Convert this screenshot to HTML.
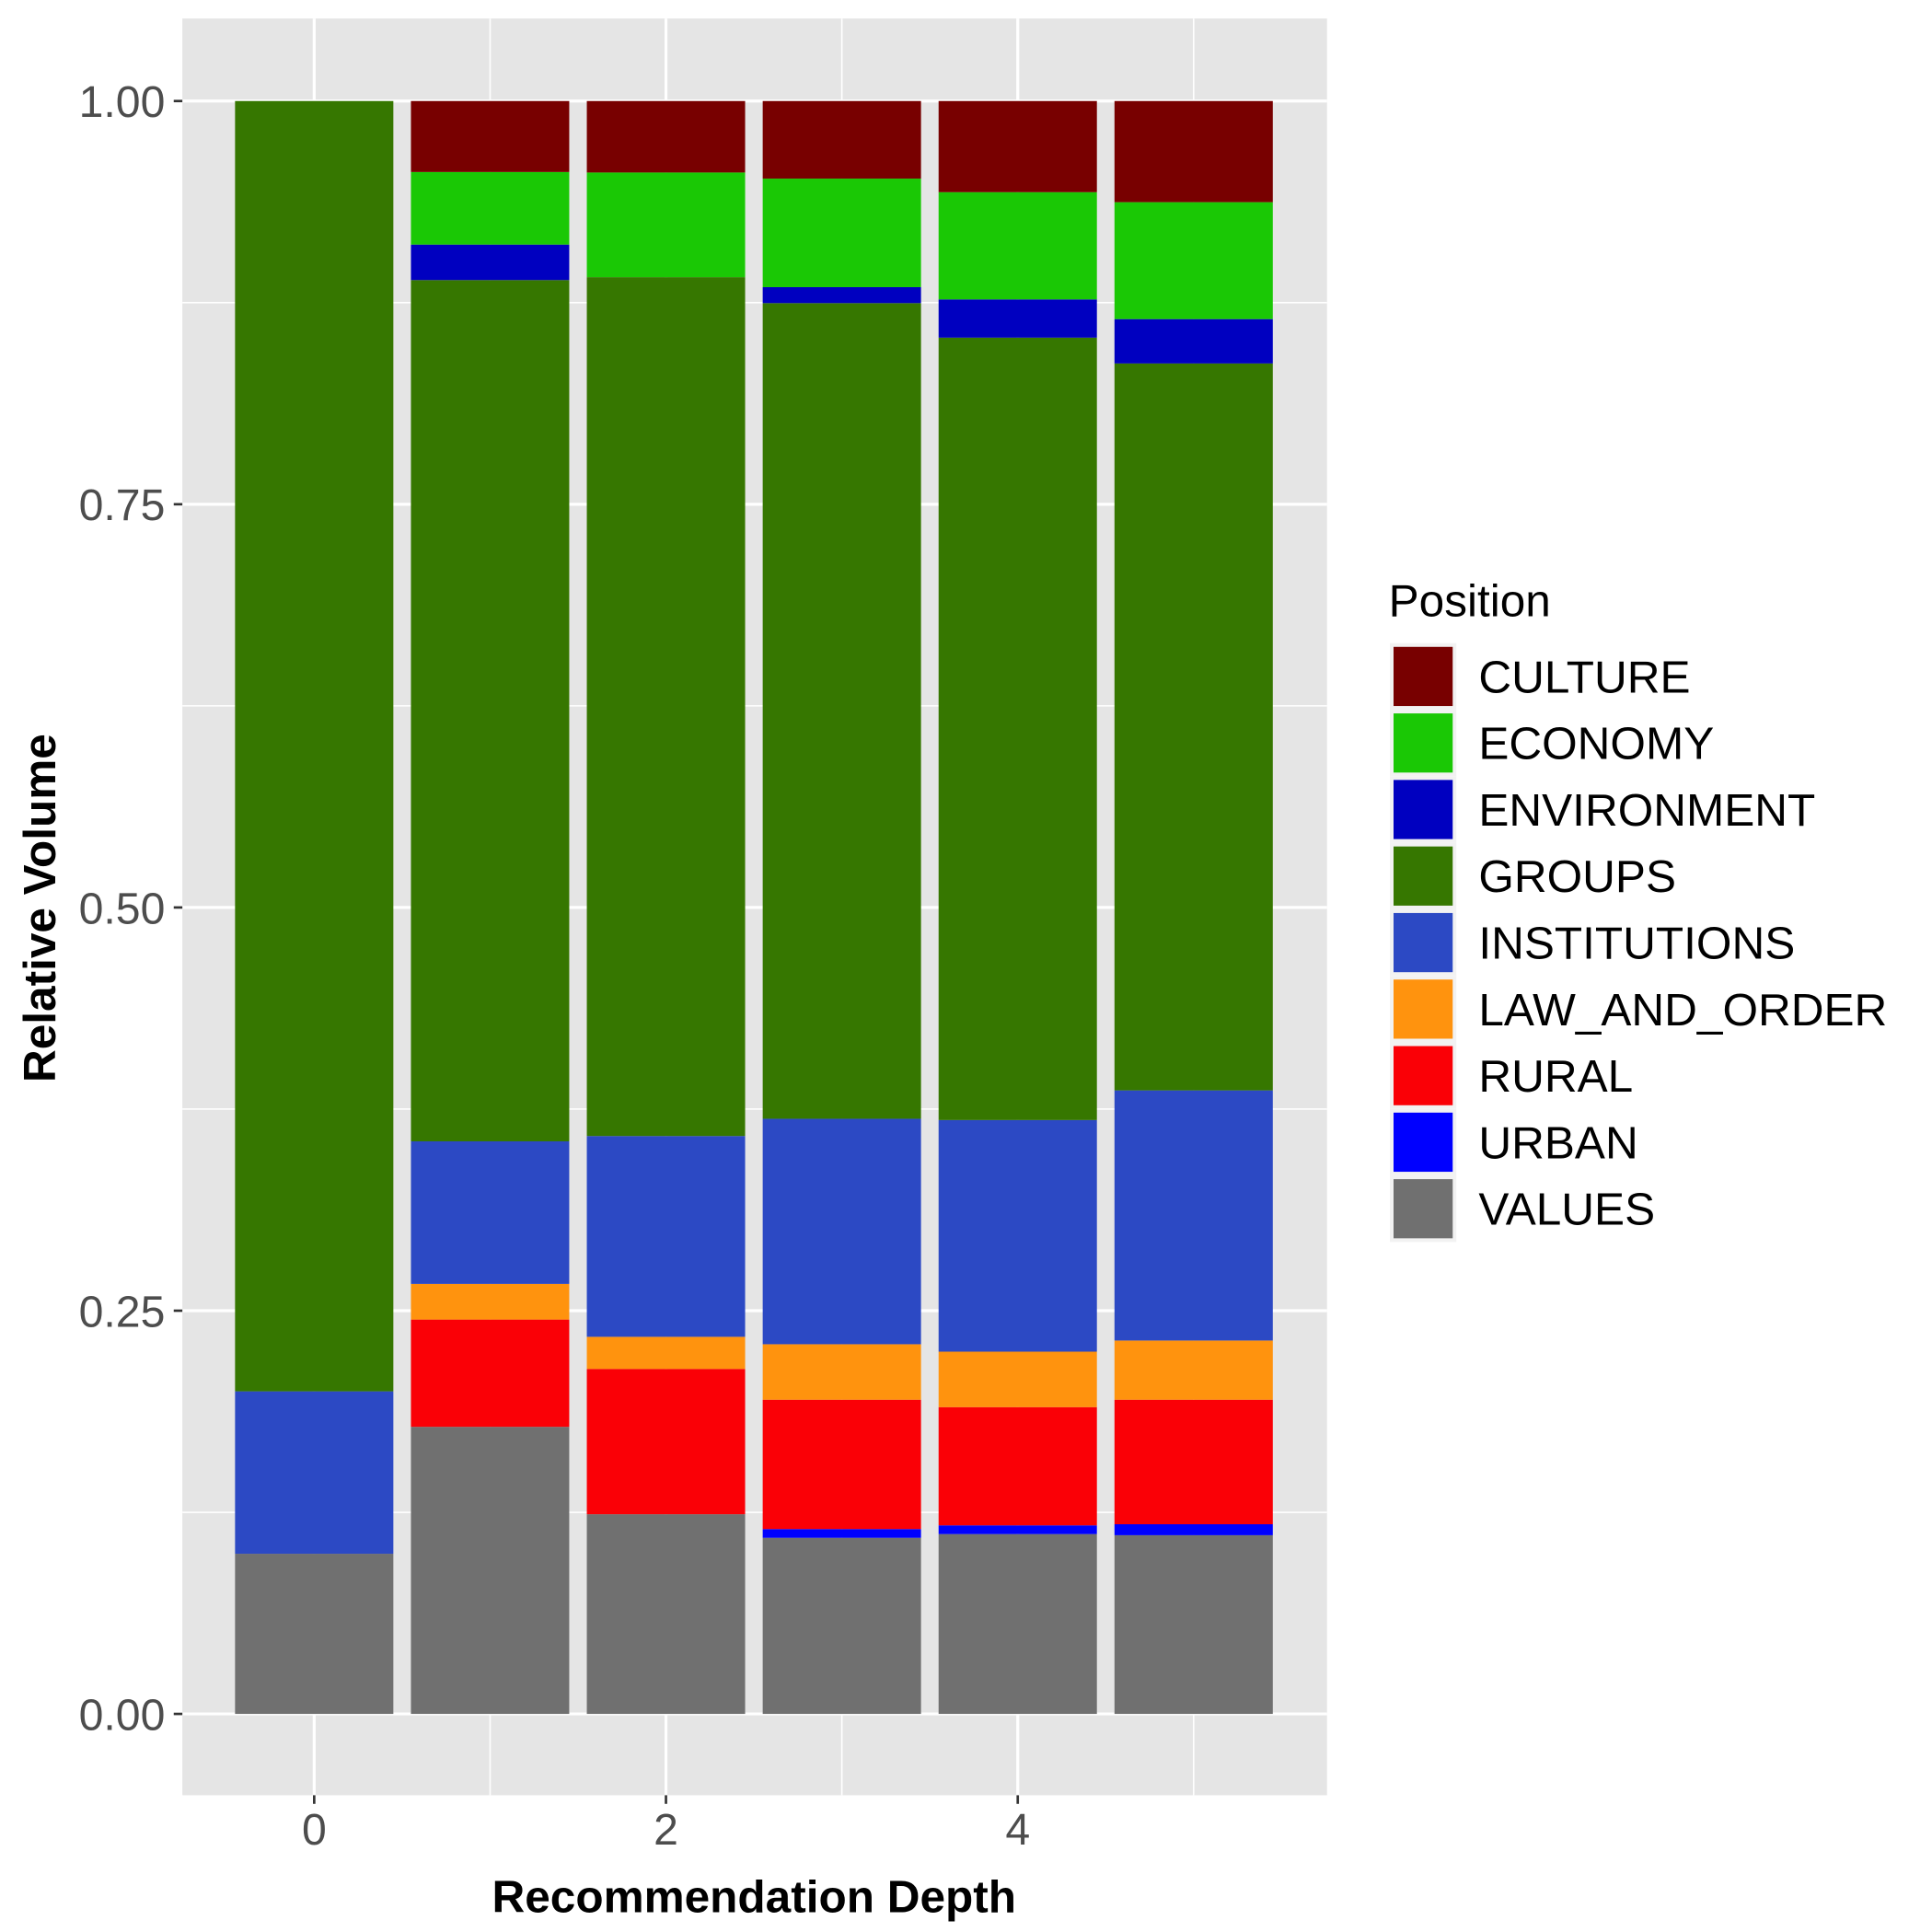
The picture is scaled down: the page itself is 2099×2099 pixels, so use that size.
<!DOCTYPE html>
<html><head><meta charset="utf-8"><style>html,body{margin:0;padding:0;background:#fff}svg{display:block}text{font-family:"Liberation Sans",Arial,sans-serif}</style></head>
<body>
<svg id="chart" width="2099" height="2099" viewBox="0 0 1568 1568" xmlns="http://www.w3.org/2000/svg">
<rect x="0" y="0" width="1568" height="1568" fill="#fff"/>
<rect x="148" y="15" width="929" height="1442" fill="#e5e5e5"/>
<g id="grid"></g>
<g id="bars"></g>
<g id="axes"></g>
<g id="legend"></g>
<text transform="translate(45,737) rotate(-90)" text-anchor="middle" font-size="37" font-weight="bold">Relative Volume</text>
<text x="612" y="1552" text-anchor="middle" font-size="37" font-weight="bold">Recommendation Depth</text>
</svg>
<script>
const depths = [0,1,2,3,4,5];
const categories = ["CULTURE","ECONOMY","ENVIRONMENT","GROUPS","INSTITUTIONS","LAW_AND_ORDER","RURAL","URBAN","VALUES"];
const colors = ["#780000","#1ac805","#0000c0","#367700","#2c49c4","#ff930e","#fa0006","#0000ff","#707070"];
const culture = [0,0.044,0.0443,0.0481,0.0565,0.0627];
const economy = [0,0.045,0.0649,0.0673,0.0665,0.0725];
const environment = [0,0.022,0,0.0099,0.0237,0.0275];
const groups = [0.8,0.534,0.5325,0.5057,0.4851,0.4507];
const institutions = [0.1007,0.0884,0.1245,0.1398,0.1436,0.1551];
const lawAndOrder = [0,0.0221,0.0199,0.0344,0.0344,0.0367];
const rural = [0,0.0665,0.0901,0.0802,0.0733,0.0772];
const urban = [0,0,0,0.0054,0.0054,0.0068];
const values = [0.0993,0.178,0.1238,0.1092,0.1115,0.1108];
const yTicks = [0,0.25,0.5,0.75,1];
const yTickLabels = ["0.00","0.25","0.50","0.75","1.00"];
const xTicks = [0,2,4];
const xTickLabels = ["0","2","4"];

const NS = "http://www.w3.org/2000/svg";
const series = [culture,economy,environment,groups,institutions,lawAndOrder,rural,urban,values];
const yScale = v => 1391 - v*1309;
const xScale = d => 255 + d*142.75;
const barW = 0.9*142.75;
function mk(tag, attrs, parent){const e=document.createElementNS(NS,tag);for(const k in attrs)e.setAttribute(k,attrs[k]);parent.appendChild(e);return e;}
const grid=document.getElementById('grid'), bars=document.getElementById('bars'), axes=document.getElementById('axes'), legend=document.getElementById('legend');
for(let i=0;i<yTicks.length-1;i++){const y=yScale((yTicks[i]+yTicks[i+1])/2);
 const l=mk('line',{x1:148,x2:1077,y1:y,y2:y,stroke:'#fff','stroke-width':1.2},grid);
 
 }
for(let d=-1;d<=5;d+=2){const x=xScale(d);
 const l=mk('line',{x1:x,x2:x,y1:15,y2:1457,stroke:'#fff','stroke-width':1.2},grid);
 
 }
yTicks.forEach((t,i)=>{const y=yScale(t);
 const l=mk('line',{x1:148,x2:1077,y1:y,y2:y,stroke:'#fff','stroke-width':2.4},grid);
 
 
 const tk=mk('line',{x1:141,x2:148,y1:y,y2:y,stroke:'#333','stroke-width':2},axes);
 
 
 const tx=mk('text',{x:134,y:y+13,'text-anchor':'end','font-size':36,fill:'#4d4d4d'},axes);
 tx.textContent=yTickLabels[i];
 
 });
xTicks.forEach((t,i)=>{const x=xScale(t);
 const l=mk('line',{x1:x,x2:x,y1:15,y2:1457,stroke:'#fff','stroke-width':2.4},grid);
 
 
 const tk=mk('line',{x1:x,x2:x,y1:1457,y2:1464,stroke:'#333','stroke-width':2},axes);
 
 
 const tx=mk('text',{x:x,y:1497,'text-anchor':'middle','font-size':36,fill:'#4d4d4d'},axes);
 tx.textContent=xTickLabels[i];
 
 });
depths.forEach((d,j)=>{let cum=0;
 for(let s=series.length-1;s>=0;s--){const v=series[s][j];if(v<=0)continue;
  const y0=yScale(cum), y1=yScale(cum+v); cum+=v;
  const r=mk('rect',{x:xScale(d)-barW/2,y:y1,width:barW,height:y0-y1,fill:colors[s]},bars);
  
  }});
const lt=mk('text',{x:1127,y:500,'font-size':37},legend);
lt.textContent='Position';


categories.forEach((c,i)=>{const y=522+i*54;
 const bg=mk('rect',{x:1128,y:y,width:54,height:54,fill:'#f2f2f2'},legend);
 
 
 const r=mk('rect',{x:1131,y:y+3,width:48,height:48,fill:colors[i]},legend);
 
 
 const t=mk('text',{x:1200,y:y+40,'font-size':37},legend);
 t.textContent=c;
 
 });
</script>
</body></html>
